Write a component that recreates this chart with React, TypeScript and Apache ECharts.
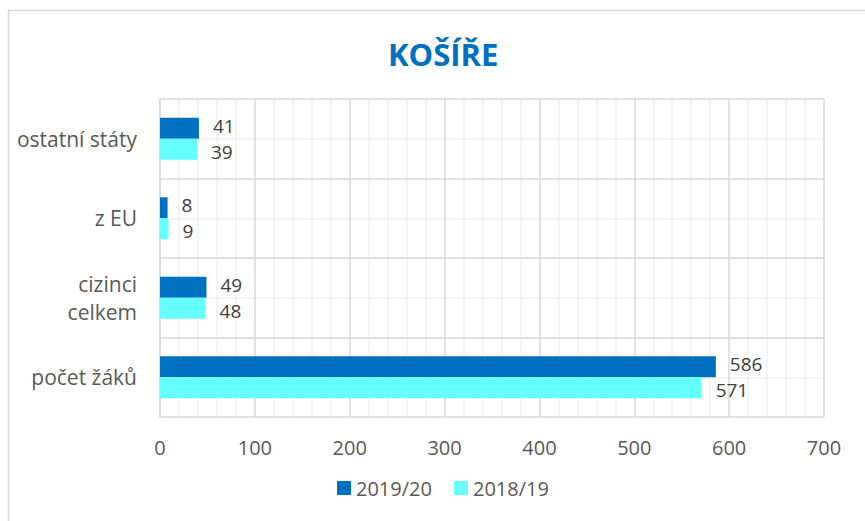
import React, { useEffect, useRef } from "react";
import * as echarts from "echarts";

const categories = ["počet žáků", "cizinci celkem", "z EU", "ostatní státy"];
const series2019 = [586, 49, 8, 41];
const series2018 = [571, 48, 9, 39];
const seriesNames = ["2019/20", "2018/19"];
const titleText = "KOŠÍŘE";

const FONT = "Open Sans";

export default function App() {
  const ref = useRef<HTMLDivElement>(null);
  useEffect(() => {
    if (!ref.current) return;
    const chart = echarts.init(ref.current, undefined, { renderer: "svg" });
    const labelStyle = (dy: number) => ({
      show: true,
      position: "right",
      distance: 14,
      offset: [0, dy],
      fontSize: 19,
      lineHeight: 17,
      fontFamily: FONT,
      color: "#404040",
    });
    chart.setOption({
      animation: false,
      backgroundColor: "#ffffff",
      textStyle: { fontFamily: FONT },
      title: {
        text: titleText,
        left: 383,
        top: 33,
        textStyle: { fontSize: 31, fontWeight: "bold", color: "#0070C0", fontFamily: FONT },
      },
      graphic: [
        {
          type: "rect",
          shape: { x: 8.5, y: 10.5, width: 900, height: 600 },
          style: { fill: "none", stroke: "#d9d9d9", lineWidth: 1.5 },
          silent: true,
          z: -10,
        },
      ],
      legend: {
        data: seriesNames,
        bottom: 18,
        left: 332,
        itemWidth: 14,
        itemHeight: 14,
        itemGap: 22,
        icon: "rect",
        textStyle: { fontSize: 20, color: "#595959", fontFamily: FONT },
      },
      grid: { left: 160, right: 41, top: 99, bottom: 104, containLabel: false },
      xAxis: {
        type: "value",
        min: 0,
        max: 700,
        interval: 100,
        axisLine: { show: false },
        axisTick: { show: false },
        axisLabel: { fontSize: 20, color: "#595959", margin: 20, fontFamily: FONT },
        splitLine: { show: true, lineStyle: { color: "#d9d9d9", width: 1.5 } },
        minorTick: { show: false, splitNumber: 5 },
        minorSplitLine: { show: true, lineStyle: { color: "#f0f0f0", width: 1.5 } },
      },
      yAxis: [
        {
          type: "category",
          data: categories,
          axisLine: { show: true, lineStyle: { color: "#d9d9d9", width: 1.5 } },
          axisTick: { show: false },
          axisLabel: {
            fontSize: 21,
            color: "#595959",
            margin: 23,
            lineHeight: 28,
            fontFamily: FONT,
            formatter: (v: string) => (v === "cizinci celkem" ? "cizinci\ncelkem" : v),
          },
          splitLine: { show: true, lineStyle: { color: "#d9d9d9", width: 1.5 } },
          z: 3,
        },
        {
          type: "value",
          min: 0,
          max: 4,
          interval: 1,
          show: true,
          axisLine: { show: false },
          axisTick: { show: false },
          axisLabel: { show: false },
          splitLine: { show: false },
          minorTick: { show: false, splitNumber: 2 },
          minorSplitLine: { show: true, lineStyle: { color: "#f0f0f0", width: 1.5 } },
        },
      ],
      series: [
        {
          name: seriesNames[0],
          type: "bar",
          data: series2019,
          barWidth: 21,
          barGap: "0%",
          itemStyle: { color: "#0070C0" },
          label: labelStyle(-2.5),
          z: 5,
        },
        {
          name: seriesNames[1],
          type: "bar",
          data: series2018,
          barWidth: 21,
          barGap: "0%",
          itemStyle: { color: "#66FFFF" },
          label: labelStyle(2.5),
          z: 5,
        },
      ],
    });
    return () => chart.dispose();
  }, []);
  return <div ref={ref} style={{ width: 865, height: 521, position: "absolute", left: 0, top: 0 }} />;
}
